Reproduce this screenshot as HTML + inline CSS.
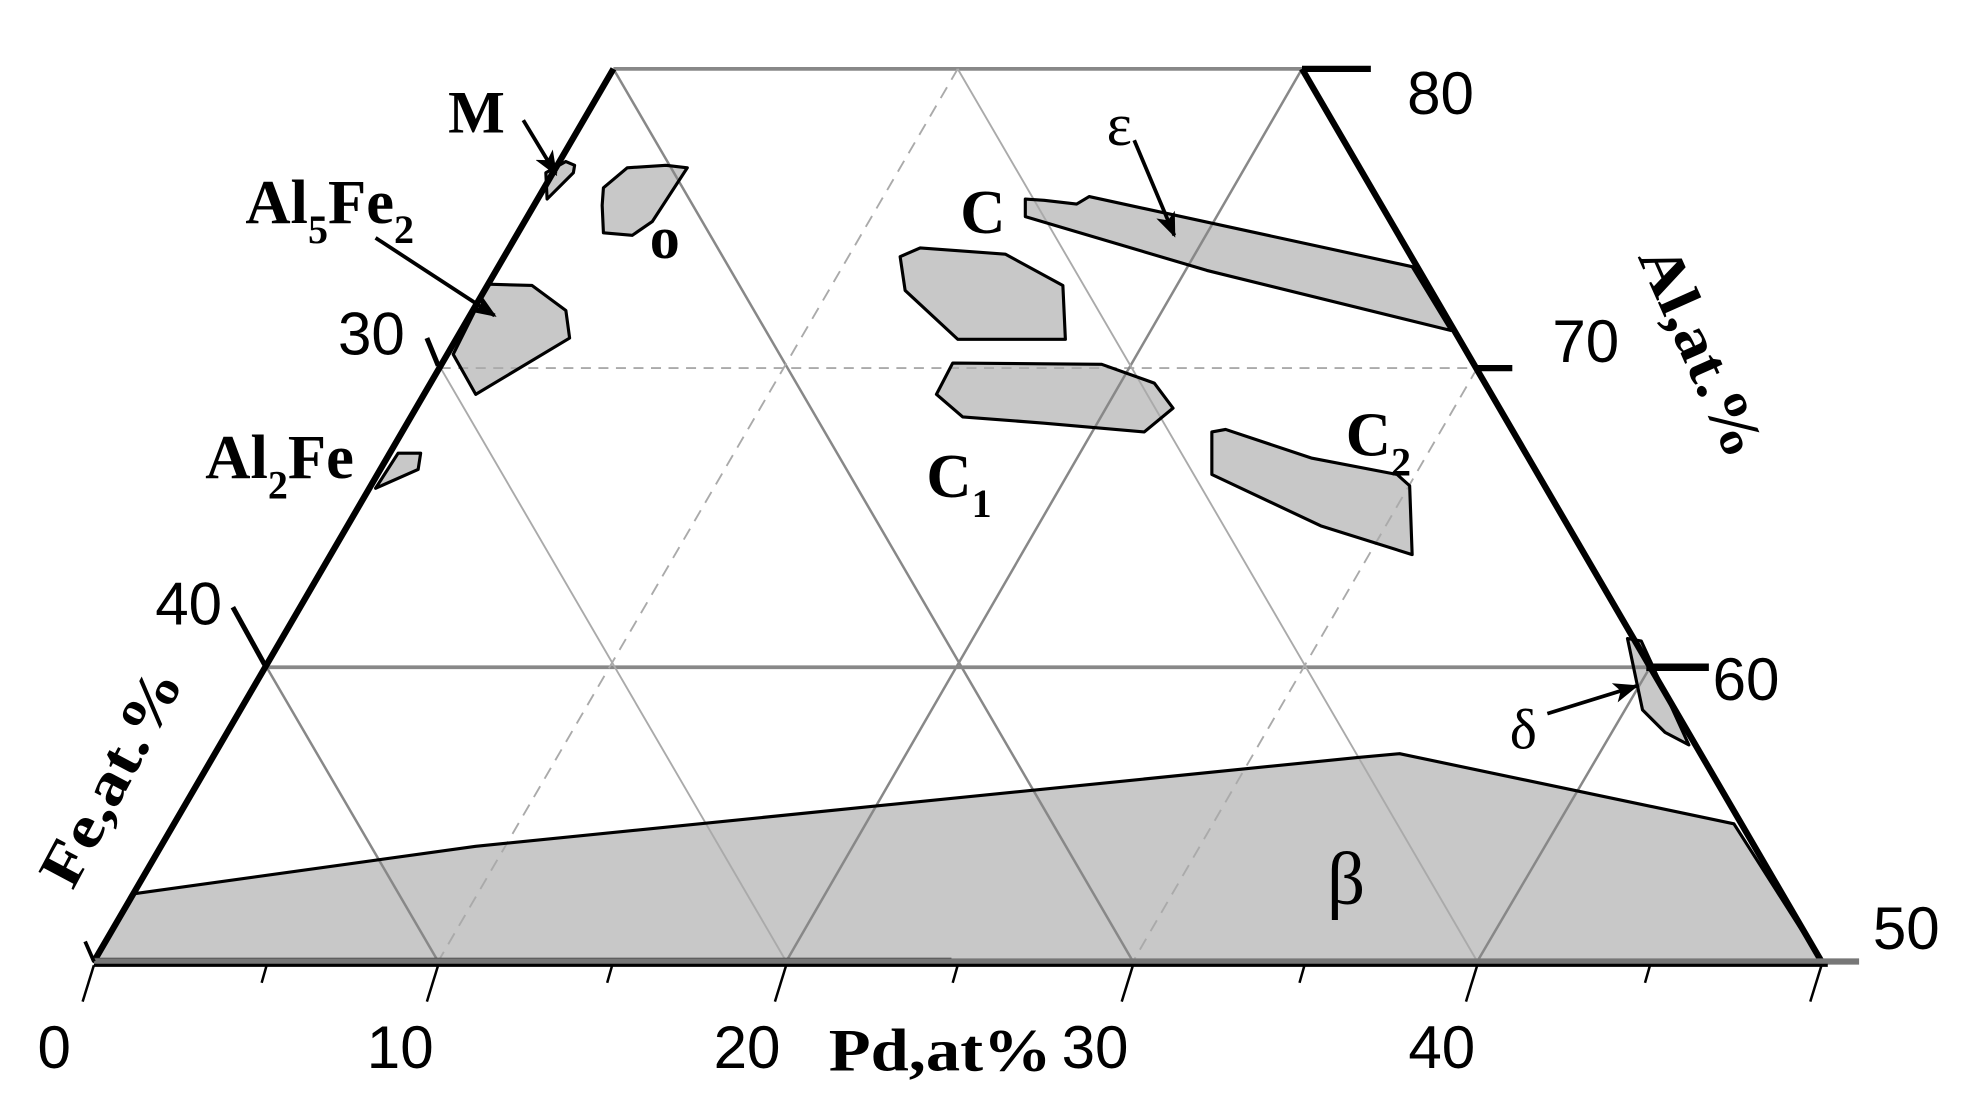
<!DOCTYPE html>
<html><head><meta charset="utf-8"><style>html,body{margin:0;padding:0;background:#fff}svg{display:block}
.s{font-family:"Liberation Serif",serif;font-weight:bold;fill:#000}
.n{font-family:"Liberation Sans",sans-serif;fill:#000}
</style></head><body>
<svg width="1963" height="1113" viewBox="0 0 1568 889" preserveAspectRatio="none" xmlns="http://www.w3.org/2000/svg">
<defs>
<marker id="b" markerWidth="20" markerHeight="16" refX="18" refY="8" orient="auto" markerUnits="userSpaceOnUse"><path d="M0,0 L20,8 L0,16 L5,8 z" fill="#000"/></marker></defs>
<g id="shapes">
<polygon points="106,714 380,676 1085,605 1118,602 1385,658 1455,768 75,768"/>
<polygon points="436,138 452,129 459,132 458,138 437,159"/>
<polygon points="482,150 501,134 532,132 549,134 521,177 505,188 482,186 481,164"/>
<polygon points="390,227 425,228 452,248 455,270 380,315 362,283"/>
<polygon points="318,362 336,362 334,375 300,390"/>
<polygon points="819,159 834,160 860,163 870,157 1128,213 1159,264 964,216 819,173"/>
<polygon points="719,205 735,198 803,203 849,228 851,271 765,271 723,232"/>
<polygon points="761,290 880,291 922,306 937,326 914,345 834,338 769,333 748,315"/>
<polygon points="968,345 979,343 1048,366 1116,379 1126,388 1128,443 1055,420 968,379"/>
<polygon points="1300,510 1311,512 1349,595 1330,585 1312,567"/>
</g>
<use href="#shapes" fill="#c8c8c8" stroke="none"/>
<!-- grid -->
<g fill="none">
<line x1="490" y1="55" x2="1040" y2="55" stroke="#888" stroke-width="3"/>
<line x1="213" y1="533" x2="1315" y2="533" stroke="#888" stroke-width="3"/>
<line x1="352" y1="294" x2="1180" y2="294" stroke="#aaa" stroke-width="1.5" stroke-dasharray="8,6"/>
<line x1="490" y1="55" x2="905" y2="768" stroke="#888" stroke-width="2"/>
<line x1="1040" y1="55" x2="628" y2="768" stroke="#888" stroke-width="2"/>
<line x1="213" y1="533" x2="350" y2="768" stroke="#888" stroke-width="2"/>
<line x1="1318" y1="533" x2="1180" y2="768" stroke="#888" stroke-width="2"/>
<line x1="765" y1="55" x2="1180" y2="768" stroke="#aaa" stroke-width="1.5"/>
<line x1="352" y1="294" x2="628" y2="768" stroke="#aaa" stroke-width="1.5"/>
<line x1="765" y1="55" x2="350" y2="768" stroke="#aaa" stroke-width="1.5" stroke-dasharray="10,7"/>
<line x1="1180" y1="294" x2="905" y2="768" stroke="#aaa" stroke-width="1.5" stroke-dasharray="10,7"/>
</g>
<use href="#shapes" fill="none" stroke="#000" stroke-width="2.5" stroke-linejoin="round"/>
<!-- axes -->
<g stroke="#000" stroke-linecap="butt" fill="none">
<line x1="490" y1="55" x2="75" y2="768" stroke-width="5"/>
<line x1="1040" y1="55" x2="1455" y2="768" stroke-width="5"/>
<line x1="75" y1="766" x2="760" y2="766" stroke="#333" stroke-width="2"/>
<line x1="75" y1="768" x2="1485" y2="768" stroke="#777" stroke-width="5"/>
<line x1="75" y1="771" x2="1460" y2="771" stroke-width="2.5"/>
<line x1="1040" y1="55" x2="1095" y2="55" stroke-width="5"/>
<line x1="1180" y1="294" x2="1208" y2="294" stroke-width="5"/>
<line x1="1315" y1="533" x2="1365" y2="533" stroke-width="6"/>
<line x1="341" y1="270" x2="350" y2="292" stroke-width="4"/>
<line x1="186" y1="485" x2="212" y2="532" stroke-width="4"/>
<line x1="68" y1="752" x2="75" y2="768" stroke-width="3"/>
<g stroke-width="2">
<line x1="75" y1="771" x2="66" y2="800"/><line x1="213" y1="771" x2="209" y2="785"/>
<line x1="350" y1="771" x2="341" y2="800"/><line x1="489" y1="771" x2="485" y2="785"/>
<line x1="628" y1="771" x2="619" y2="800"/><line x1="765" y1="771" x2="761" y2="785"/>
<line x1="905" y1="771" x2="896" y2="800"/><line x1="1042" y1="771" x2="1038" y2="785"/>
<line x1="1180" y1="771" x2="1171" y2="800"/><line x1="1318" y1="771" x2="1314" y2="785"/>
<line x1="1455" y1="771" x2="1446" y2="800"/>
</g>
<line x1="418" y1="96" x2="444" y2="139" stroke-width="3" marker-end="url(#b)"/>
<line x1="300" y1="190" x2="395" y2="252" stroke-width="3" marker-end="url(#b)"/>
<line x1="906" y1="112" x2="938" y2="188" stroke-width="3" marker-end="url(#b)"/>
<line x1="1236" y1="570" x2="1307" y2="548" stroke-width="3" marker-end="url(#b)"/>
</g>
<!-- labels -->
<text class="s" x="358" y="106" font-size="48">M</text>
<text class="s" x="196" y="178" font-size="50">Al<tspan font-size="32" dy="16">5</tspan><tspan dy="-16">Fe</tspan><tspan font-size="32" dy="16">2</tspan></text>
<text class="s" x="519" y="206" font-size="48">o</text>
<text class="s" x="767" y="186" font-size="50">C</text>
<text x="884" y="116" font-family="Liberation Serif,serif" font-size="48">ε</text>
<text class="s" x="740" y="397" font-size="50">C<tspan font-size="32" dy="16">1</tspan></text>
<text class="s" x="1075" y="364" font-size="50">C<tspan font-size="32" dy="16">2</tspan></text>
<text class="s" x="164" y="382" font-size="50">Al<tspan font-size="32" dy="16">2</tspan><tspan dy="-16">Fe</tspan></text>
<text x="1060" y="722" font-family="Liberation Serif,serif" font-size="60">β</text>
<text x="1206" y="598" font-family="Liberation Serif,serif" font-size="46">δ</text>
<g class="n" font-size="48">
<text x="1124" y="91">80</text><text x="1240" y="289">70</text><text x="1368" y="559">60</text><text x="1496" y="758">50</text>
<text x="270" y="283">30</text><text x="124" y="499">40</text>
<text x="30" y="853">0</text><text x="293" y="853">10</text><text x="570" y="853">20</text><text x="848" y="853">30</text><text x="1125" y="853">40</text>
</g>
<text class="s" x="662" y="855" font-size="48" textLength="178" lengthAdjust="spacingAndGlyphs">Pd,at%</text>
<text class="s" font-size="48" transform="translate(1308,205) rotate(66)" textLength="180" lengthAdjust="spacingAndGlyphs">Al,at.%</text>
<text class="s" font-size="48" transform="translate(58,712) rotate(-62)" textLength="190" lengthAdjust="spacingAndGlyphs">Fe,at.%</text>
</svg>
</body></html>
